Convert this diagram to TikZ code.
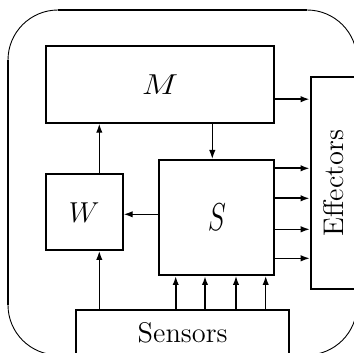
\documentclass[tikz,border=0pt]{standalone}
\usepackage{graphicx}
\usetikzlibrary{arrows.meta, calc}

\begin{document}
\begin{tikzpicture}[
    x=0.5pt, y=-0.5pt,
    box/.style={draw, line width=1pt, inner sep=0pt, font=\fontsize{14.2}{17}\selectfont},
    mbox/.style={box, font=\fontsize{15}{18}\selectfont},
    arr/.style={-{Latex[length=4.5pt,width=3.2pt]}, line width=0.65pt},
    arrw/.style={arr, line width=1pt}
]
\useasboundingbox (0,0) rectangle (354,353);
\clip (0,0) rectangle (354,353);
% Frame
\draw[line width=0.45pt, rounded corners=25pt] (8,10) rectangle (357,355);
\draw[line width=0.9pt] (58,10) -- (307,10) (357,60) -- (357,305)
    (307,355) -- (58,355) (8,305) -- (8,60);
% Boxes
\node[mbox, minimum width=114.3pt, minimum height=38.5pt] (M) at (160,84.2) {\scalebox{1.2}[1]{$M$}};
\node[mbox, minimum width=38.5pt, minimum height=37.8pt] (W) at (84.2,212.2) {$W$};
\node[mbox, minimum width=57.5pt, minimum height=57.5pt] (S) at (216.8,217.5) {\scalebox{0.95}[1.35]{$S$}};
\node[box, minimum width=23.2pt, minimum height=106.3pt] (Eff) at (333.9,183) {\rotatebox{90}{Effectors}};
\node[box, minimum width=106.7pt, minimum height=23pt] (Sens) at (182.7,333) {Sensors};
% Arrows
\draw[arrw] ([yshift=-7.5pt]M.east) -- ([yshift=-7.5pt]M.east -| Eff.west);
\draw[arr] ([xshift=-2.25pt]S.north |- M.south) -- ([xshift=-2.25pt]S.north);
\draw[arr] ([yshift=1.6pt]S.west) -- ([yshift=1.6pt]S.west -| W.east);
\draw[arr] ([xshift=7.55pt]W.north) -- ([xshift=7.55pt]W.north |- M.south);
\draw[arr] ([xshift=7.55pt]W.south |- Sens.north) -- ([xshift=7.55pt]W.south);
\foreach \d/\s in {24.6/arrw, 9.6/arrw, -5.9/arr, -20.4/arr}
    \draw[\s] ([yshift=\d pt]S.east) -- ([yshift=\d pt]S.east -| Eff.west);
\foreach \d/\s in {-20.55/arrw, -5.9/arrw, 9.6/arr, 24.45/arr}
    \draw[\s] ([xshift=\d pt]S.south |- Sens.north) -- ([xshift=\d pt]S.south);
\end{tikzpicture}
\end{document}
